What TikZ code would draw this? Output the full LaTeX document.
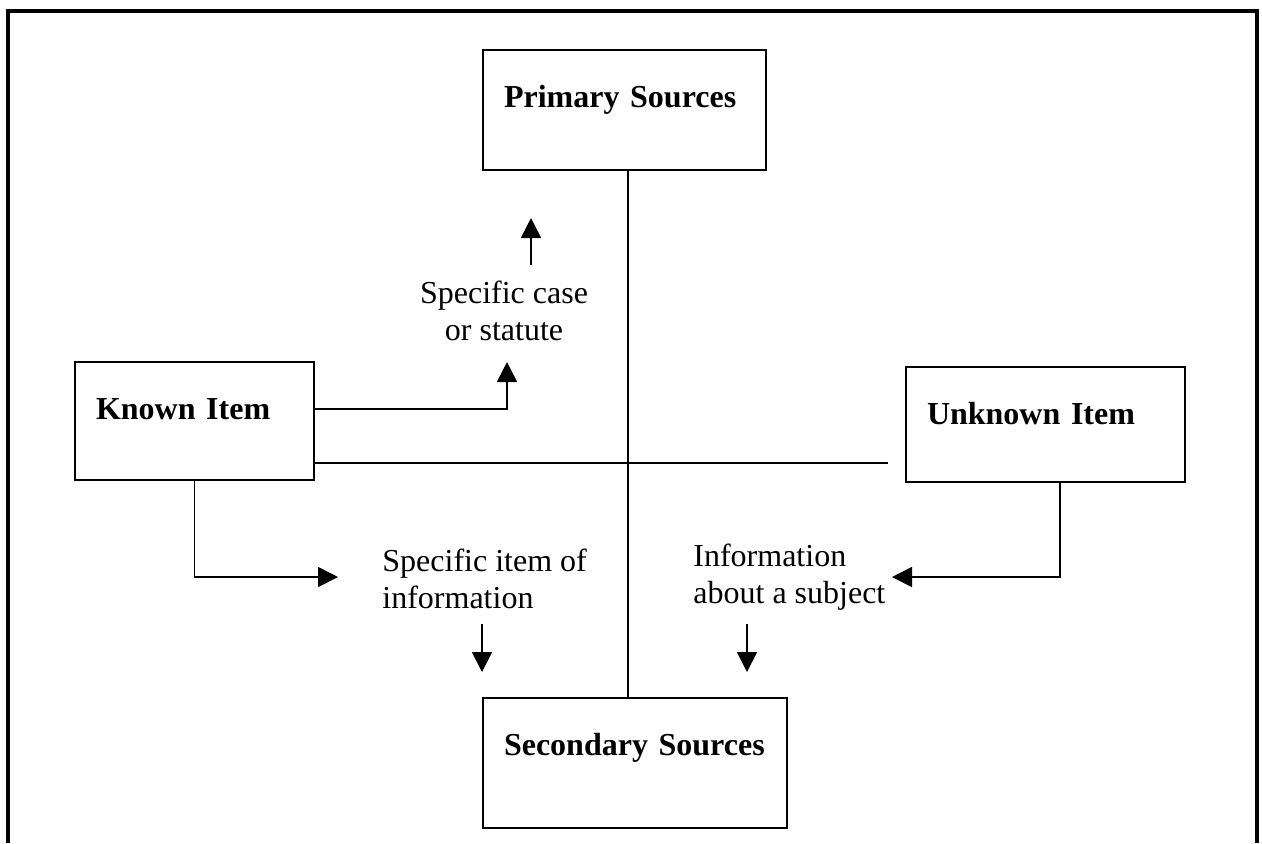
\documentclass[tikz,border=0pt]{standalone}
\usepackage{fontspec}
\setmainfont{Liberation Serif}
\usetikzlibrary{arrows.meta}

\begin{document}
\begin{tikzpicture}[
  x=0.5pt, y=-0.5pt,
  source/.style={draw, line width=1pt, rectangle, anchor=north west, align=left, inner xsep=10.5pt, inner ysep=0pt, text height=28.75pt, font=\fontsize{16}{18.5}\selectfont\bfseries},
  note/.style={inner sep=0pt, font=\fontsize{16}{18.5}\selectfont},
  arrow/.style={-{Triangle[length=10pt, width=10pt]}, line width=0.8pt},
  link/.style={line width=0.8pt},
  frame/.style={line width=1.7pt}
]

\useasboundingbox (0,0) rectangle (1262,843);

% Outer frame, open at the bottom
\draw[frame] (8,843) -- (8,11) -- (1257,11) -- (1257,843);

% Source boxes
\node[source, text width=120.5pt, text depth=31.25pt] (primary) at (482,49) {Primary Sources};
\node[source, text width=131pt, text depth=36.25pt] (secondary) at (482,697) {Secondary Sources};

% Item boxes
\node[source, text width=98.5pt, text depth=30.25pt] (known) at (74,361) {Known Item};
\node[source, text width=118.5pt, text depth=28.75pt] (unknown) at (905,366) {Unknown Item};

% Labels (base anchor sits on the last line)
\node[note, align=center, anchor=base] (case) at (504,340) {Specific case\\or statute};
\node[note, align=left, anchor=base west] (item) at (382,608) {Specific item of\\information};
\node[note, align=left, anchor=base west] (subject) at (693,603) {Information\\about a subject};

% Free ends of the arrows
\coordinate (axis) at ([xshift=1.75pt]primary.south);
\coordinate (gap) at (888,463);
\coordinate (caseIn) at (507,362);
\coordinate (caseOut) at (531,265);
\coordinate (itemIn) at (338,577);
\coordinate (itemOut) at (482,624);
\coordinate (subjectIn) at (892,577);
\coordinate (subjectOut) at (747,624);

% Plain lines
\draw[link] (axis) -- (axis |- secondary.north);
\draw[link] (known.south east |- gap) -- (gap);

% Arrows
\draw[arrow] ([yshift=-24pt]known.north east) -| (caseIn);
\draw[arrow] (caseOut) -- ++(0,-47);
\draw[arrow] (known.south) |- (itemIn);
\draw[arrow] (itemOut) -- ++(0,48);
\draw[arrow] ([xshift=7.25pt]unknown.south) |- (subjectIn);
\draw[arrow] (subjectOut) -- ++(0,48);

\end{tikzpicture}
\end{document}
